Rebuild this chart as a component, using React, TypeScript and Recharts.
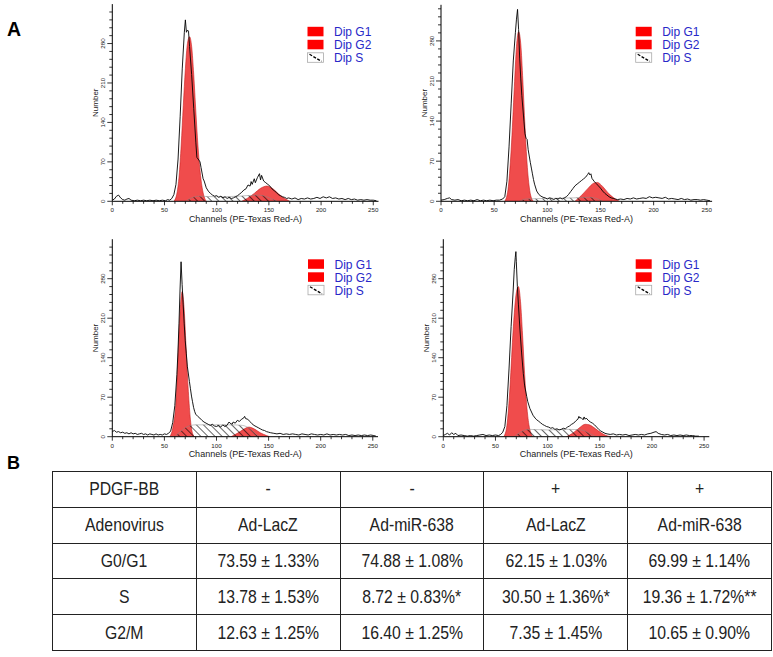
import React from 'react';
import { ComposedChart, Area, Line, XAxis, YAxis } from 'recharts';

type Pt = [number, number];

const xTicks = [0, 10, 20, 30, 40, 50, 60, 70, 80, 90, 100, 110, 120, 130, 140, 150, 160, 170, 180, 190, 200, 210, 220, 230, 240, 250];
const xLabelTicks = [0, 50, 100, 150, 200, 250];
const yTicks = [0, 14, 28, 42, 56, 70, 84, 98, 112, 126, 140, 154, 168, 182, 196, 210, 224, 238, 252, 266, 280, 294, 308, 322, 336];
const yLabelTicks = [0, 70, 140, 210, 280];
const legendLabels = ['Dip G1', 'Dip G2', 'Dip S'];
const xTitle = 'Channels (PE-Texas Red-A)';
const yTitle = 'Number';

// Panel 1 (top-left)
const p1Hist: Pt[] = [[0,2],[2,4],[4,9],[6,11],[8,6],[10,3],[12,2],[14,4],[16,5],[18,2],[21,1],[24,2],[27,1],[30,2],[33,1],[36,2],[39,1],[42,2],[45,1],[48,2],[51,1],[53,3],[55,2],[57,5],[59,12],[61,30],[63,75],[65,150],[67,235],[69,300],[70,322],[71,300],[72,304],[73,302],[74,275],[76,225],[78,165],[80,105],[81,78],[83,73],[84,70],[85,60],[87,40],[88,36],[90,24],[92,18],[94,14],[96,11],[98,9],[100,10],[102,7],[104,9],[106,6],[108,8],[110,5],[112,7],[114,5],[116,6],[118,8],[120,10],[122,13],[124,16],[126,20],[128,22],[130,29],[132,27],[133,35],[134,30],[136,40],[137,33],[139,42],[141,49],[142,38],[143,46],[145,36],[147,33],[149,30],[151,27],[153,22],[155,19],[157,16],[159,12],[161,10],[163,8],[165,7],[167,5],[169,6],[172,4],[175,6],[178,3],[181,5],[184,4],[187,6],[190,4],[193,5],[196,7],[199,5],[202,8],[205,6],[208,8],[211,5],[214,6],[217,4],[220,5],[223,3],[226,5],[229,3],[232,4],[235,2],[238,3],[241,2],[244,3],[247,2],[250,2],[253,1]];
const p1G1: Pt[] = [[59,0],[62,15],[64,45],[66,100],[68,170],[70,235],[72,280],[74,292],[76,275],[78,225],[80,160],[82,100],[84,55],[86,25],[88,8],[90,0]];
const p1G2: Pt[] = [[124,0],[130,6],[136,14],[142,23],[148,27],[154,22],[160,12],[166,4],[170,0]];
const p1S: Pt[] = [[70,0],[76,6],[82,9],[100,8],[120,9],[140,11],[148,8],[154,3],[158,0]];

// Panel 2 (top-right)
const p2Hist: Pt[] = [[0,2],[3,3],[6,5],[8,6],[10,3],[13,2],[16,3],[19,1],[22,2],[25,1],[28,2],[31,1],[34,3],[37,1],[40,2],[43,1],[46,2],[49,1],[52,2],[55,2],[58,4],[60,8],[62,35],[64,95],[66,170],[68,245],[70,295],[71,318],[72,335],[73,300],[74,250],[75,215],[76,185],[78,140],[79,118],[80,110],[81,108],[82,90],[84,68],[85,58],[86,48],[87,38],[88,30],[90,18],[92,12],[94,9],[96,7],[98,6],[100,4],[102,6],[104,5],[106,3],[108,5],[110,4],[112,6],[114,4],[116,6],[118,8],[120,12],[122,17],[124,22],[126,27],[128,30],[130,33],[132,36],[134,39],[136,42],[138,47],[139,50],[140,46],[141,48],[142,40],[144,35],[146,31],[148,27],[150,23],[152,18],[154,14],[156,11],[158,8],[160,6],[162,5],[164,4],[166,3],[169,4],[172,3],[175,5],[178,4],[181,6],[184,4],[187,5],[190,6],[193,5],[196,8],[199,6],[202,7],[205,6],[208,5],[211,7],[214,4],[217,5],[220,4],[223,3],[226,5],[229,3],[232,4],[235,2],[238,3],[241,3],[244,2],[247,3],[250,2],[253,1]];
const p2G1: Pt[] = [[60,0],[63,20],[66,90],[69,200],[71,270],[73,296],[75,275],[77,210],[79,130],[81,65],[83,25],[85,6],[87,0]];
const p2G2: Pt[] = [[126,0],[132,10],[138,22],[144,32],[147,33],[152,26],[158,13],[164,4],[168,0]];
const p2S: Pt[] = [[74,0],[80,4],[100,5],[125,6],[140,7],[146,5],[152,0]];

// Panel 3 (bottom-left)
const p3Hist: Pt[] = [[0,9],[2,11],[4,8],[6,9],[8,7],[10,8],[12,6],[14,7],[16,5],[18,7],[20,5],[22,6],[24,4],[26,5],[28,6],[30,4],[32,5],[34,3],[36,5],[38,4],[40,3],[42,5],[44,3],[46,4],[48,3],[50,5],[52,4],[54,6],[56,10],[58,25],[60,55],[62,110],[63,150],[64,200],[65,260],[66,310],[67,270],[68,235],[69,200],[70,170],[71,148],[72,125],[74,98],[75,85],[76,72],[77,62],[78,52],[79,45],[80,40],[82,36],[84,33],[86,29],[88,26],[90,24],[92,22],[94,20],[96,22],[98,19],[100,18],[102,20],[104,17],[106,21],[108,18],[110,20],[112,26],[113,24],[115,22],[116,26],[118,24],[120,29],[122,27],[124,31],[126,33],[127,36],[128,32],[130,31],[132,27],[134,23],[136,20],[138,18],[140,16],[142,14],[144,12],[146,11],[148,9],[150,8],[152,7],[155,6],[158,5],[161,6],[164,4],[167,5],[170,4],[173,5],[176,4],[179,3],[182,5],[185,4],[188,3],[191,5],[194,4],[197,3],[200,4],[203,3],[206,5],[209,3],[212,4],[215,3],[218,4],[221,3],[224,4],[227,2],[230,3],[233,2],[236,3],[239,2],[242,3],[245,2],[248,3],[251,2],[253,1]];
const p3G1: Pt[] = [[55,0],[58,15],[61,60],[63,140],[65,220],[67,257],[69,225],[71,150],[73,80],[75,30],[77,6],[79,0]];
const p3G2: Pt[] = [[114,0],[120,6],[126,13],[131,17],[136,14],[142,7],[148,2],[151,0]];
const p3S: Pt[] = [[60,0],[66,10],[72,18],[80,21],[100,21],[115,21],[125,20],[132,14],[138,4],[142,0]];

// Panel 4 (bottom-right)
const p4Hist: Pt[] = [[0,2],[2,4],[4,6],[6,3],[8,7],[10,4],[12,6],[14,2],[17,3],[20,2],[23,1],[26,2],[29,1],[32,2],[35,3],[38,4],[41,2],[44,3],[47,2],[50,3],[53,2],[55,4],[57,8],[59,18],[61,55],[63,120],[65,195],[67,260],[68,296],[69,318],[69.6,328],[70,310],[71,266],[72,235],[73.5,189],[75,150],[76.7,112],[78,90],[80,71],[81,62],[83,50],[85,42],[86,38],[88,33],[89.5,30],[91,28],[93,25],[95,22],[97,20],[99,18],[101,17],[103,15],[105,16],[107,13],[109,14],[111,12],[113,13],[115,15],[117,14],[119,17],[121,19],[123,22],[125,24],[127,28],[129,31],[130,36],[131,33],[132,34],[134,30],[135,35],[136,31],[137,33],[139,29],[141,26],[143,24],[145,21],[147,17],[149,13],[151,10],[153,8],[155,6],[157,5],[160,4],[163,5],[166,3],[169,4],[172,3],[175,4],[178,2],[181,3],[184,4],[187,3],[190,4],[193,3],[196,5],[199,6],[202,8],[204,9],[206,6],[209,4],[212,3],[215,4],[218,2],[221,3],[224,2],[227,3],[230,2],[233,3],[236,2],[239,2],[242,1],[245,1]];
const p4G1: Pt[] = [[58,0],[61,20],[64,90],[67,190],[70,255],[72,266],[74,240],[76,180],[78,110],[80,55],[82,22],[84,6],[86,0]];
const p4G2: Pt[] = [[118,0],[124,6],[130,15],[136,22],[140,21],[146,14],[152,6],[158,1],[161,0]];
const p4S: Pt[] = [[68,0],[74,8],[82,13],[100,12],[120,13],[132,12],[140,6],[146,0]];

// Table B
const rowPdgf = ['PDGF-BB', '-', '-', '+', '+'];
const rowVirus = ['Adenovirus', 'Ad-LacZ', 'Ad-miR-638', 'Ad-LacZ', 'Ad-miR-638'];
const rowG1 = ['G0/G1', '73.59 ± 1.33%', '74.88 ± 1.08%', '62.15 ± 1.03%', '69.99 ± 1.14%'];
const rowS = ['S', '13.78 ± 1.53%', '8.72 ± 0.83%*', '30.50 ± 1.36%*', '19.36 ± 1.72%**'];
const rowG2 = ['G2/M', '12.63 ± 1.25%', '16.40 ± 1.25%', '7.35 ± 1.45%', '10.65 ± 0.90%'];
const tableRows = [rowPdgf, rowVirus, rowG1, rowS, rowG2];

const rows = (pts: Pt[]) => pts.map(([ch, v]) => ({ ch, v }));

interface Panel {
  id: string;
  left: number; top: number; width: number; height: number;
  plotLeft: number; plotTop: number; plotRight: number; plotBottom: number;
  yMax: number;
  hist: Pt[]; g1: Pt[]; g2: Pt[]; s: Pt[];
  legendX: number; legendY: number;
}

const YW = 30;
const XH = 20;

const panels: Panel[] = [
  { id: 'p1', left: 0, top: 0, width: 390, height: 230, plotLeft: 112.3, plotTop: 4.1, plotRight: 378.5, plotBottom: 201.3, yMax: 350, hist: p1Hist, g1: p1G1, g2: p1G2, s: p1S, legendX: 307.5, legendY: 26.8 },
  { id: 'p2', left: 390, top: 0, width: 383, height: 230, plotLeft: 441, plotTop: 4.8, plotRight: 712.1, plotBottom: 201.3, yMax: 343, hist: p2Hist, g1: p2G1, g2: p2G2, s: p2S, legendX: 635.7, legendY: 26.8 },
  { id: 'p3', left: 0, top: 232, width: 390, height: 230, plotLeft: 112.3, plotTop: 239.2, plotRight: 378, plotBottom: 436.7, yMax: 350, hist: p3Hist, g1: p3G1, g2: p3G2, s: p3S, legendX: 308, legendY: 259.3 },
  { id: 'p4', left: 390, top: 232, width: 383, height: 230, plotLeft: 443.3, plotTop: 239.2, plotRight: 709.3, plotBottom: 436.7, yMax: 350, hist: p4Hist, g1: p4G1, g2: p4G2, s: p4S, legendX: 635.7, legendY: 259.3 },
];

const FONT = "'Liberation Sans', Arial, Helvetica, sans-serif";

const YTick = (props: any) => {
  const { x, y, payload } = props;
  const major = yLabelTicks.includes(payload.value);
  return (
    <g>
      <line x1={x - (major ? 5 : 3)} y1={y} x2={x} y2={y} stroke="#000" strokeWidth={0.8} />
      {major && (
        <text transform={`translate(${x - 7},${y}) rotate(-90)`} textAnchor="middle" fontSize={6.2} fill="#222" fontFamily={FONT}>
          {payload.value}
        </text>
      )}
    </g>
  );
};

const XTick = (props: any) => {
  const { x, y, payload } = props;
  const major = xLabelTicks.includes(payload.value);
  return (
    <g>
      <line x1={x} y1={y} x2={x} y2={y + (major ? 4 : 2.5)} stroke="#000" strokeWidth={0.8} />
      {major && (
        <text x={x} y={y + 11} textAnchor="middle" fontSize={6.2} fill="#222" fontFamily={FONT}>
          {payload.value}
        </text>
      )}
    </g>
  );
};

const RED_FILL = '#f04c4c';
const RED_STROKE = '#c81e1e';

function HistPanel({ p }: { p: Panel }) {
  const margin = {
    left: p.plotLeft - p.left - YW,
    top: p.plotTop - p.top,
    right: p.left + p.width - p.plotRight,
    bottom: p.top + p.height - p.plotBottom - XH,
  };
  return (
    <div style={{ position: 'absolute', left: p.left, top: p.top, width: p.width, height: p.height }}>
      <ComposedChart width={p.width} height={p.height} margin={margin}>
        <defs>
          <pattern id={`hatch-${p.id}`} patternUnits="userSpaceOnUse" width="5" height="5" patternTransform="rotate(-45)">
            <line x1="2.5" y1="0" x2="2.5" y2="5" stroke="#000" strokeWidth="0.6" />
          </pattern>
        </defs>
        <XAxis
          dataKey="ch"
          type="number"
          domain={[0, 255]}
          ticks={xTicks}
          allowDataOverflow
          height={XH}
          tickSize={0}
          tickMargin={0}
          tickLine={false}
          axisLine={{ stroke: '#000', strokeWidth: 1 }}
          tick={<XTick />}
          interval={0}
        />
        <YAxis
          type="number"
          domain={[0, p.yMax]}
          ticks={yTicks}
          allowDataOverflow
          width={YW}
          tickSize={0}
          tickMargin={0}
          tickLine={false}
          axisLine={{ stroke: '#000', strokeWidth: 1 }}
          tick={<YTick />}
          interval={0}
        />
        <Area data={rows(p.g1)} dataKey="v" type="monotone" fill={RED_FILL} fillOpacity={1} stroke={RED_STROKE} strokeWidth={0.6} isAnimationActive={false} dot={false} activeDot={false} />
        <Area data={rows(p.g2)} dataKey="v" type="monotone" fill={RED_FILL} fillOpacity={1} stroke={RED_STROKE} strokeWidth={0.6} isAnimationActive={false} dot={false} activeDot={false} />
        <Area data={rows(p.s)} dataKey="v" type="monotone" fill={`url(#hatch-${p.id})`} fillOpacity={1} stroke="#888" strokeWidth={0.5} isAnimationActive={false} dot={false} activeDot={false} />
        <Line data={rows(p.hist)} dataKey="v" type="linear" stroke="#000" strokeWidth={0.9} dot={false} activeDot={false} isAnimationActive={false} />
      </ComposedChart>
    </div>
  );
}

function Overlay() {
  return (
    <svg width={773} height={657} style={{ position: 'absolute', left: 0, top: 0, pointerEvents: 'none' }} fontFamily={FONT}>
      <text x={7} y={36} fontSize={19.5} fontWeight="bold" fill="#000">A</text>
      <text x={7} y={469} fontSize={18} fontWeight="bold" fill="#000">B</text>
      {panels.map((p) => {
        const cy = (p.plotTop + p.plotBottom) / 2;
        const cx = (p.plotLeft + p.plotRight) / 2;
        return (
          <g key={p.id}>
            <text transform={`translate(${p.plotLeft - 14.5},${cy}) rotate(-90)`} textAnchor="middle" fontSize={8} fill="#222">{yTitle}</text>
            <text x={cx} y={p.plotBottom + 20.5} textAnchor="middle" fontSize={9} fill="#222">{xTitle}</text>
            {legendLabels.map((lab, i) => {
              const ry = p.legendY + i * 13;
              return (
                <g key={lab}>
                  {i < 2 ? (
                    <rect x={p.legendX} y={ry} width={16} height={9.5} fill="#ff0000" />
                  ) : (
                    <g>
                      <rect x={p.legendX} y={ry} width={16} height={9.5} fill="#fff" stroke="#aaa" strokeWidth={0.8} />
                      <line x1={p.legendX + 2} y1={ry + 1.5} x2={p.legendX + 14} y2={ry + 8.5} stroke="#000" strokeWidth={1.3} strokeDasharray="3 1.5" />
                    </g>
                  )}
                  <text x={p.legendX + 26.5} y={ry + 5.3} dominantBaseline="central" fontSize={12} fill="#2828c8">{lab}</text>
                </g>
              );
            })}
          </g>
        );
      })}
    </svg>
  );
}

function Table() {
  const colW = 714 / 5;
  return (
    <table
      style={{
        position: 'absolute', left: 52, top: 471, width: 714, height: 179,
        borderCollapse: 'collapse', tableLayout: 'fixed',
        fontFamily: FONT,
        fontSize: 19, color: '#222',
      }}
    >
      <tbody>
        {tableRows.map((r, ri) => (
          <tr key={ri} style={{ height: 179 / 5 }}>
            {r.map((c, ci) => (
              <td key={ci} style={{ width: colW, border: '1.5px solid #222', textAlign: 'center', padding: 0, verticalAlign: 'middle', overflow: 'hidden' }}>
                <span style={{ display: 'inline-block', transform: 'scaleX(0.83)', transformOrigin: 'center', whiteSpace: 'nowrap' }}>{c}</span>
              </td>
            ))}
          </tr>
        ))}
      </tbody>
    </table>
  );
}

export default function App() {
  return (
    <div style={{ position: 'absolute', left: 0, top: 0, width: 773, height: 657, background: '#fff', overflow: 'hidden' }}>
      {panels.map((p) => <HistPanel key={p.id} p={p} />)}
      <Overlay />
      <Table />
    </div>
  );
}
